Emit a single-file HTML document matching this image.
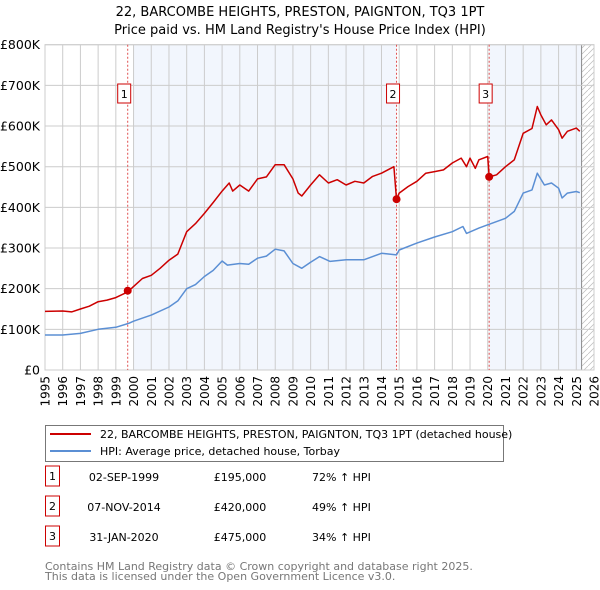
<!DOCTYPE html>
<html><head><meta charset="utf-8">
<style>
body{margin:0;background:#fff;width:600px;height:590px;overflow:hidden;font-family:"Liberation Sans","DejaVu Sans",sans-serif;}
svg{position:absolute;left:0;top:0;}
text{font-family:"DejaVu Sans","Liberation Sans",sans-serif;}
</style></head><body>
<svg id="chart" width="600" height="590" viewBox="0 0 600 590"></svg>
<script>
const yTicks=[0,100,200,300,400,500,600,700,800];
const yTickLabels=["£0","£100K","£200K","£300K","£400K","£500K","£600K","£700K","£800K"];
const xYears=[1995,1996,1997,1998,1999,2000,2001,2002,2003,2004,2005,2006,2007,2008,2009,2010,2011,2012,2013,2014,2015,2016,2017,2018,2019,2020,2021,2022,2023,2024,2025,2026];
const hpiT=[1995,1996,1997,1998,1999,1999.75,2000,2001,2002,2002.5,2003,2003.5,2004,2004.5,2005,2005.3,2006,2006.5,2007,2007.5,2008,2008.5,2009,2009.5,2010,2010.5,2011.1,2012,2013,2014,2014.85,2015,2016,2017,2018,2018.6,2018.8,2019.5,2020,2021,2021.5,2022,2022.5,2022.8,2023.2,2023.6,2024,2024.2,2024.5,2025,2025.2];
const hpiV=[86,86,90,100,105,115,120,135,155,170,200,210,230,245,268,258,262,260,275,280,297,293,262,250,265,279,267,271,271,287,283,295,312,327,340,353,336,349,357,373,390,435,443,484,455,460,447,423,435,439,436];
const priceT=[1995,1996,1996.5,1997,1997.5,1998,1998.5,1999,1999.67,2000,2000.5,2001,2001.5,2002,2002.5,2003,2003.5,2004,2004.5,2005,2005.4,2005.6,2006,2006.5,2007,2007.5,2008,2008.5,2009,2009.3,2009.5,2010,2010.5,2011,2011.5,2012,2012.5,2013,2013.5,2014,2014.7,2014.85,2015,2015.5,2016,2016.5,2017,2017.5,2018,2018.5,2018.8,2019,2019.3,2019.5,2020,2020.08,2020.5,2021,2021.5,2022,2022.5,2022.8,2023,2023.3,2023.6,2024,2024.2,2024.5,2025,2025.2];
const priceV=[144,145,143,150,157,168,172,178,192,205,225,233,250,270,285,340,360,385,412,440,460,440,455,440,470,475,505,505,470,435,428,455,480,460,468,455,464,460,476,484,500,420,435,451,464,484,488,492,509,521,500,521,496,517,525,475,480,500,517,582,594,648,627,603,615,591,570,587,595,587];
const saleT=[1999.67,2014.85,2020.08];
const saleV=[195,420,475];
const saleLabels=["1","2","3"];
const saleDates=["02-SEP-1999","07-NOV-2014","31-JAN-2020"];
const salePrices=["£195,000","£420,000","£475,000"];
const salePct=["72% ↑ HPI","49% ↑ HPI","34% ↑ HPI"];

const NS="http://www.w3.org/2000/svg";
const svg=document.getElementById('chart');
const L=45,R=594,T=44.7,B=370;
const X=y=>L+(y-1995)/(2026-1995)*(R-L);
const Y=v=>B-v/800*(B-T);
function mk(tag,attrs,parent){const e=document.createElementNS(NS,tag);for(const k in attrs)e.setAttribute(k,attrs[k]);(parent||svg).appendChild(e);return e;}
function txt(s,attrs,parent){const e=mk('text',attrs,parent);e.textContent=s;return e;}

let r=mk('rect',{x:X(2000),y:T,width:X(2014.85)-X(2000),height:B-T,fill:'#f2f6fd'});


r=mk('rect',{x:X(2020.08),y:T,width:X(2025.3)-X(2020.08),height:B-T,fill:'#f2f6fd'});


const defs=mk('defs',{});
const pat=mk('pattern',{id:'h',width:6,height:6,patternUnits:'userSpaceOnUse'},defs);
mk('path',{d:'M0,6 L6,0',stroke:'#bbb','stroke-width':0.7},pat);
r=mk('rect',{x:X(2025.3),y:T,width:R-X(2025.3),height:B-T,fill:'url(#h)'});


mk('line',{x1:X(2025.3),x2:X(2025.3),y1:T,y2:B,stroke:'#888','stroke-width':1});

xYears.forEach(yr=>{
  mk('line',{x1:X(yr),x2:X(yr),y1:T,y2:B,stroke:'#ccc','stroke-width':1});
  const t=txt(String(yr),{x:0,y:0,'font-size':12,fill:'#000','text-anchor':'end',transform:`translate(${X(yr)+4.5},${B+6}) rotate(-90)`});
  
  
});
yTicks.forEach((v,i)=>{
  mk('line',{x1:L,x2:R,y1:Y(v),y2:Y(v),stroke:'#ccc','stroke-width':1});
  const t=txt(yTickLabels[i],{x:40,y:Y(v)+4.5,'font-size':12.5,'text-anchor':'end',fill:'#000'});
  
  
});
mk('rect',{x:L,y:T,width:R-L,height:B-T,fill:'none',stroke:'#ccc'});

saleT.forEach((t,i)=>{
  mk('line',{x1:X(t),x2:X(t),y1:T,y2:B,stroke:'#e05050','stroke-width':1,'stroke-dasharray':'2,2'});
  const g=mk('g',{});
  
  
  mk('rect',{x:X(t)-10,y:84,width:13,height:19,fill:'#fff',stroke:'#cc0000'},g);
  txt(saleLabels[i],{x:X(t)-3.5,y:98,'font-size':11,'text-anchor':'middle'},g);
});

function path(ts,vs){return ts.map((t,i)=>(i?'L':'M')+X(t).toFixed(1)+','+Y(vs[i]).toFixed(1)).join(' ');}
let p=mk('path',{d:path(hpiT,hpiV),fill:'none',stroke:'#5b8fd4','stroke-width':1.5,'stroke-linejoin':'round'});


p=mk('path',{d:path(priceT,priceV),fill:'none',stroke:'#cc0000','stroke-width':1.5,'stroke-linejoin':'round'});


saleT.forEach((t,i)=>{
  const c=mk('circle',{cx:X(t),cy:Y(saleV[i]),r:4,fill:'#cc0000'});
  
  
});

let tt=txt('22, BARCOMBE HEIGHTS, PRESTON, PAIGNTON, TQ3 1PT',{x:300,y:16,'font-size':13,'text-anchor':'middle'});


tt=txt("Price paid vs. HM Land Registry's House Price Index (HPI)",{x:300,y:34,'font-size':13,'text-anchor':'middle'});



const lg=mk('g',{});


mk('rect',{x:45.5,y:425.5,width:458,height:36,fill:'#fff',stroke:'#777'},lg);
mk('line',{x1:50,x2:91,y1:434,y2:434,stroke:'#cc0000','stroke-width':2},lg);
txt('22, BARCOMBE HEIGHTS, PRESTON, PAIGNTON, TQ3 1PT (detached house)',{x:100,y:438,'font-size':11},lg);
mk('line',{x1:50,x2:91,y1:451,y2:451,stroke:'#5b8fd4','stroke-width':2},lg);
txt('HPI: Average price, detached house, Torbay',{x:100,y:455,'font-size':11},lg);

const rowsY=[483,513,543];
rowsY.forEach((ry,i)=>{
  const g=mk('g',{});
  
  
  mk('rect',{x:45.5,y:ry-17,width:14,height:20,fill:'#fff',stroke:'#cc0000'},g);
  txt(saleLabels[i],{x:52.5,y:ry-3,'font-size':11,'text-anchor':'middle'},g);
  txt(saleDates[i],{x:124,y:ry-2,'font-size':11,'text-anchor':'middle'},g);
  txt(salePrices[i],{x:240,y:ry-2,'font-size':11,'text-anchor':'middle'},g);
  txt(salePct[i],{x:312,y:ry-2,'font-size':11},g);
});
const f=mk('g',{});


txt('Contains HM Land Registry data © Crown copyright and database right 2025.',{x:45,y:570,'font-size':11,fill:'#777'},f);
txt('This data is licensed under the Open Government Licence v3.0.',{x:45,y:580,'font-size':11,fill:'#777'},f);
</script>
</body></html>
